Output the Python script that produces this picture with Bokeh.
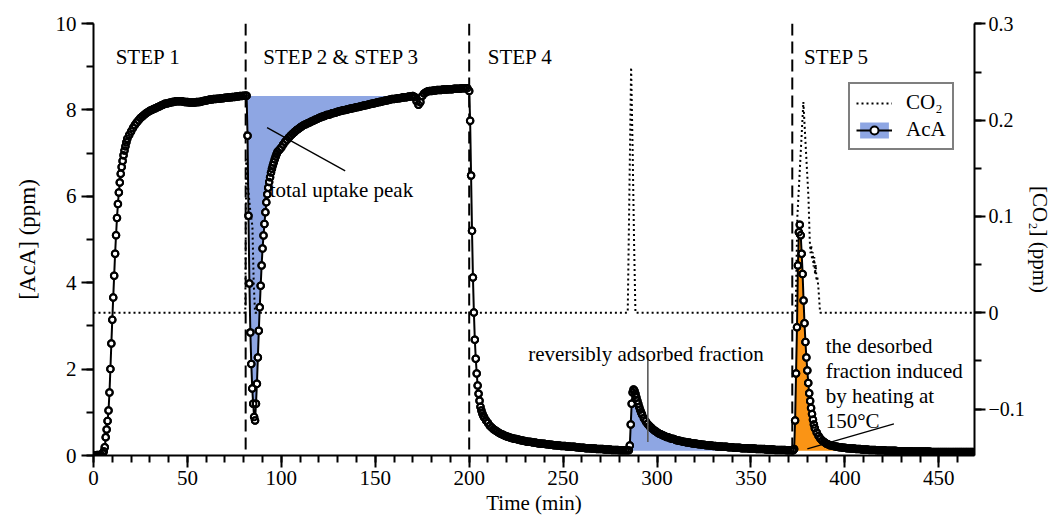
import numpy as np
from bokeh.plotting import figure
from bokeh.models import (Range1d, LinearAxis, SingleIntervalTicker, Span, Label,
                          Legend, LegendItem, CustomJSTickFormatter)
from bokeh.embed import file_html
from bokeh.resources import INLINE

FONT = "Liberation Serif"
FS = "21px"
BLUE = "#8EA6E3"
ORANGE = "#FA9415"

# ---------------- AcA data (ppm), sampled segments: (start min, step min, values)
aca_s1a = [0.0, 0.0, 0.01, 0.01, 0.02, 0.05]
aca_s1b = [0.1, 0.19, 0.42, 0.6, 0.8, 1.04, 1.46, 2.0, 2.59, 3.14,
           3.66, 4.16, 4.67, 5.1, 5.5, 5.82, 6.09, 6.32, 6.52, 6.68,
           6.82, 6.95, 7.06, 7.16, 7.25, 7.33]
aca_s1c = [7.42, 7.5, 7.58, 7.65, 7.71, 7.76, 7.81, 7.85, 7.89, 7.92,
           7.95, 7.98, 8.0, 8.02, 8.04, 8.06, 8.08, 8.1, 8.12, 8.14,
           8.15, 8.16, 8.17, 8.18, 8.19, 8.2, 8.2, 8.2, 8.2, 8.19,
           8.18, 8.18, 8.17, 8.17, 8.17, 8.17, 8.18, 8.18, 8.19, 8.2,
           8.21, 8.22, 8.23, 8.24, 8.24, 8.25, 8.25, 8.26, 8.26, 8.27,
           8.27, 8.28, 8.28, 8.29, 8.29, 8.3, 8.3, 8.31, 8.31, 8.32,
           8.32, 8.33, 8.33]
aca_s2a = [8.33, 7.4, 5.55, 3.98, 2.85, 2.12, 1.55, 1.2, 0.89, 0.81,
           1.2, 1.66, 2.27, 2.89, 3.43, 3.93, 4.4, 4.79, 5.09, 5.36,
           5.63, 5.86, 6.05, 6.2, 6.33, 6.44, 6.55, 6.64, 6.72, 6.79,
           6.86, 6.92, 6.98, 7.03]
aca_s2b = [7.08, 7.13, 7.2, 7.26, 7.31, 7.36, 7.41, 7.45, 7.49, 7.53,
           7.56, 7.59, 7.62, 7.65, 7.67, 7.69, 7.71, 7.73, 7.75, 7.77,
           7.79, 7.81, 7.83, 7.85, 7.86, 7.88, 7.89, 7.9, 7.92, 7.93,
           7.94, 7.96, 7.97, 7.98, 7.99, 8.0, 8.01, 8.02, 8.03, 8.04,
           8.05, 8.06, 8.07, 8.08, 8.09, 8.1, 8.11, 8.12, 8.13, 8.14,
           8.15, 8.16, 8.17, 8.18, 8.19, 8.2, 8.21, 8.22, 8.23, 8.24,
           8.25, 8.25, 8.26, 8.27, 8.27, 8.28, 8.29, 8.29, 8.3, 8.31,
           8.31, 8.32, 8.3, 8.2, 8.12, 8.18, 8.32, 8.38, 8.41, 8.43,
           8.44, 8.44, 8.45, 8.45, 8.46, 8.46, 8.46, 8.47, 8.47, 8.47,
           8.48, 8.48, 8.48, 8.49, 8.49, 8.49, 8.49, 8.5, 8.5, 8.5,
           8.5]
aca_s4a = [8.44, 7.75, 6.48, 5.2, 4.12, 3.31, 2.68, 2.24, 1.9, 1.62,
           1.43, 1.27, 1.13, 1.04, 0.97, 0.92, 0.88]
aca_s4b = [0.81, 0.75, 0.69, 0.65, 0.61, 0.58, 0.55, 0.52, 0.5, 0.48,
           0.46, 0.44, 0.43, 0.41, 0.4, 0.39, 0.38, 0.37, 0.36, 0.35,
           0.34, 0.33, 0.32, 0.32, 0.31, 0.3, 0.3, 0.29, 0.28, 0.28,
           0.27, 0.27, 0.26, 0.26, 0.25, 0.25, 0.24, 0.24, 0.23, 0.23,
           0.22, 0.22, 0.22, 0.21, 0.21, 0.2, 0.2, 0.2, 0.19, 0.19,
           0.18, 0.18, 0.18, 0.17, 0.17, 0.17, 0.16, 0.16, 0.16, 0.15,
           0.15, 0.15, 0.15, 0.14, 0.14, 0.14, 0.14, 0.13, 0.13, 0.13,
           0.13, 0.12, 0.12, 0.12, 0.12, 0.12, 0.12]
aca_s4c = [0.23, 0.72, 1.2, 1.46, 1.53, 1.5, 1.43, 1.35, 1.27, 1.2,
           1.12, 1.06, 1.0, 0.95]
aca_s4d = [0.86, 0.79, 0.73, 0.68, 0.64, 0.6, 0.57, 0.54, 0.51, 0.49,
           0.47, 0.45, 0.43, 0.42, 0.4, 0.39, 0.38, 0.36, 0.35, 0.34,
           0.33, 0.32, 0.31, 0.3, 0.3, 0.29, 0.28, 0.28, 0.27, 0.26,
           0.26, 0.25, 0.25, 0.24, 0.24, 0.23, 0.23, 0.22, 0.22, 0.21,
           0.21, 0.21, 0.2, 0.2, 0.2, 0.19, 0.19, 0.19, 0.18, 0.18,
           0.18, 0.18, 0.17, 0.17, 0.17, 0.17, 0.16, 0.16, 0.16, 0.16,
           0.15, 0.15, 0.15, 0.15, 0.15, 0.14, 0.14, 0.14, 0.14, 0.14,
           0.13, 0.13, 0.13, 0.13, 0.13, 0.13, 0.12, 0.12, 0.12, 0.12]
aca_s5a = [0.12, 0.15, 0.81, 1.9, 2.97, 4.4, 5.17, 5.34, 5.1, 4.67,
           4.2, 3.59, 3.06, 2.63, 2.27, 1.97, 1.68, 1.44, 1.26, 1.1,
           0.96, 0.83, 0.72, 0.63]
aca_s5b = [0.53, 0.45, 0.39, 0.34, 0.31, 0.28, 0.26, 0.24, 0.23, 0.22,
           0.21, 0.2, 0.19, 0.19, 0.18, 0.18, 0.17, 0.17, 0.16, 0.16,
           0.16, 0.15, 0.15, 0.15, 0.14, 0.14, 0.14, 0.14, 0.13, 0.13,
           0.13, 0.13, 0.12, 0.12, 0.12, 0.12, 0.12, 0.11, 0.11, 0.11,
           0.11, 0.11, 0.11, 0.1, 0.1, 0.1, 0.1, 0.1, 0.1, 0.1,
           0.1, 0.09, 0.09, 0.09, 0.09, 0.09, 0.09, 0.09, 0.09, 0.09,
           0.09, 0.08, 0.08, 0.08, 0.08, 0.08, 0.08, 0.08, 0.08, 0.08,
           0.08, 0.08, 0.08, 0.08, 0.08, 0.08, 0.08, 0.08, 0.08, 0.08,
           0.08, 0.08, 0.08, 0.08, 0.08]

aca_segments = [(0, 1, aca_s1a), (5.5, 0.5, aca_s1b), (19, 1, aca_s1c),
                (81.5, 0.5, aca_s2a), (99, 1, aca_s2b),
                (200, 0.5, aca_s4a), (209, 1, aca_s4b), (285.5, 0.5, aca_s4c),
                (293, 1, aca_s4d), (372.5, 0.5, aca_s5a), (385, 1, aca_s5b)]

# ---------------- CO2 data (ppm)
co2_t = [0, 80.8, 81.3, 82.3, 83.5, 84.6, 85.3, 86.0,
         284.4, 286.2, 287.0, 287.8, 288.5,
         373.8, 374.7, 377.9, 379.2, 380.6, 381.3, 381.7, 382.1, 382.5,
         382.9, 383.3, 383.7, 384.1, 384.5, 384.9, 385.3, 385.9, 386.8, 469]
co2_v = [0, 0, 0.16, 0.13, 0.105, 0.09, 0.03, 0,
         0, 0.255, 0.17, 0.07, 0,
         0, 0.1, 0.219, 0.171, 0.12, 0.075, 0.062, 0.07, 0.055,
         0.063, 0.048, 0.058, 0.04, 0.05, 0.033, 0.038, 0.026, 0.0, 0]

step_bounds = [81, 200, 372]
step_labels = ["STEP 1", "STEP 2 & STEP 3", "STEP 4", "STEP 5"]
step_label_x = [11.8, 90.4, 209.9, 378.3]

FILL_TOP = 8.32
FILL_BASE = 0.11
fill1_range = (81.5, 170)
fill2_range = (285, 372.5)
fill3_range = (372.5, 400)

# ---------------- assemble
tt, vv = [], []
for start, step, vals in aca_segments:
    for i, val in enumerate(vals):
        tt.append(round(start + i * step, 3))
        vv.append(val)
t = np.array(tt)
v = np.array(vv)

p = figure(width=1054, height=522, x_range=Range1d(0, 469), y_range=Range1d(0, 10),
           output_backend="svg", toolbar_location=None,
           min_border_left=93, min_border_right=79, min_border_top=23, min_border_bottom=67)
p.outline_line_color = None
p.xgrid.visible = False
p.ygrid.visible = False
p.background_fill_color = "white"
p.border_fill_color = "white"
p.extra_y_ranges = {"co2": Range1d(-0.1483, 0.3005)}


def style(ax):
    ax.axis_line_width = 2
    ax.axis_line_color = "black"
    ax.major_tick_line_width = 2
    ax.minor_tick_line_width = 2
    ax.major_tick_line_color = "black"
    ax.minor_tick_line_color = "black"
    ax.major_tick_out = 12
    ax.major_tick_in = 0
    ax.minor_tick_out = 7
    ax.minor_tick_in = 0
    ax.major_label_text_font = FONT
    ax.major_label_text_font_size = FS
    ax.major_label_text_color = "black"
    ax.axis_label_text_font = FONT
    ax.axis_label_text_font_size = FS
    ax.axis_label_text_font_style = "normal"
    ax.axis_label_text_color = "black"


xa = p.xaxis[0]
xa.ticker = SingleIntervalTicker(interval=50, num_minor_ticks=5)
xa.axis_label = "Time (min)"
style(xa)
xa.major_label_standoff = 3
xa.axis_label_standoff = 3

ya = p.yaxis[0]
ya.ticker = SingleIntervalTicker(interval=2, num_minor_ticks=2)
ya.axis_label = "[AcA] (ppm)"
style(ya)
ya.axis_label_text_font_size = "23px"
ya.axis_label_standoff = 13

ra = LinearAxis(y_range_name="co2", axis_label="[CO₂] (ppm)",
                ticker=SingleIntervalTicker(interval=0.1, num_minor_ticks=2),
                formatter=CustomJSTickFormatter(code="""
const v = Math.round(tick * 100) / 100;
if (v === 0) { return "0"; }
return v < 0 ? "\u2212" + String(-v) : String(v);
"""))
style(ra)
ra.major_tick_out = 11
ra.major_label_standoff = 3
ra.major_label_text_font_size = "20px"
ra.axis_label_standoff = 0
p.add_layout(ra, "right")

# fills
m1 = (t >= fill1_range[0]) & (t <= fill1_range[1])
m2 = (t >= fill2_range[0]) & (t <= fill2_range[1])
m3 = (t >= fill3_range[0]) & (t <= fill3_range[1])
fill1 = p.varea(x=t[m1], y1=v[m1], y2=FILL_TOP, fill_color=BLUE)
p.varea(x=t[m2], y1=FILL_BASE, y2=v[m2], fill_color=BLUE)
p.varea(x=t[m3], y1=FILL_BASE, y2=v[m3], fill_color=ORANGE)

# CO2
co2_line = p.line(co2_t, co2_v, y_range_name="co2", line_color="black",
                  line_width=2, line_dash="2 3")

# step boundaries
for loc in step_bounds:
    p.add_layout(Span(location=loc, dimension="height", line_color="black",
                      line_width=2, line_dash="12 6", level="underlay"))

# AcA
aca_line = p.line(t, v, line_color="black", line_width=2)
aca_pts = p.scatter(t, v, marker="circle", size=6.5, fill_color="white",
                    line_color="black", line_width=2)
p.scatter(t, v, marker="circle", size=6.5, fill_color=None,
          line_color="black", line_width=2)

# leader lines
lead_x0 = [92.4, 380.0]
lead_y0 = [7.59, 0.155]
lead_x1 = [134.0, 426.1]
lead_y1 = [6.59, 0.733]
p.segment(lead_x0, lead_y0, lead_x1, lead_y1, line_color="black", line_width=1.3)
p.segment([295.1], [0.31], [295.1], [2.31], line_color="#5a5a5a", line_width=1.6)

# labels
for txt, x in zip(step_labels, step_label_x):
    p.add_layout(Label(x=x, y=9.23, text=txt, text_font=FONT, text_font_size=FS,
                       text_baseline="alphabetic", text_color="black"))

p.add_layout(Label(x=93.8, y=6.15, text="total uptake peak", text_font=FONT,
                   text_font_size=FS, text_baseline="alphabetic", text_color="black"))
p.add_layout(Label(x=231.4, y=2.36, text="reversibly adsorbed fraction", text_font=FONT,
                   text_font_size=FS, text_baseline="alphabetic", text_color="black"))
desorb_lines = ["the desorbed", "fraction induced", "by heating at", "150°C"]
for i, line in enumerate(desorb_lines):
    p.add_layout(Label(x=389.8, y=2.545, y_offset=-25.3 * i, text=line, text_font=FONT,
                       text_font_size=FS, text_baseline="alphabetic", text_color="black"))

legend = Legend(items=[LegendItem(label="CO₂", renderers=[co2_line]),
                       LegendItem(label="AcA", renderers=[fill1, aca_line, aca_pts])],
                location=(755, 305))
legend.border_line_color = "black"
legend.border_line_width = 2
legend.background_fill_color = "white"
legend.background_fill_alpha = 1
legend.label_text_font = FONT
legend.label_text_font_size = FS
legend.label_text_color = "black"
legend.glyph_width = 36
legend.glyph_height = 20
legend.label_height = 20
legend.padding = 6
legend.spacing = 2
legend.label_standoff = 14
legend.margin = 0
p.add_layout(legend)

open("out.html", "w").write(file_html(p, INLINE))
